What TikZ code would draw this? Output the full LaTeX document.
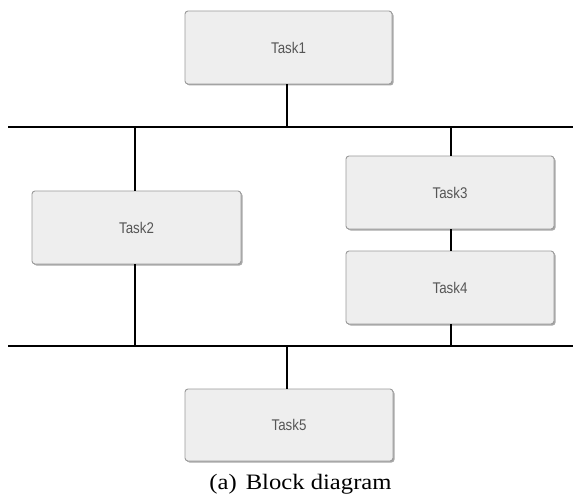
\documentclass[tikz,border=0pt]{standalone}
\usepackage{fontspec}
\setmainfont{Liberation Serif}
\newfontfamily\capfont[FakeStretch=1.12]{Liberation Serif}
\newfontfamily\boxfont[FakeStretch=0.86]{Liberation Sans}
\usetikzlibrary{shadows}
\definecolor{boxfill}{HTML}{EEEEEE}
\definecolor{boxline}{HTML}{9A9A9A}
\definecolor{boxshadow}{HTML}{A8A8A8}
\definecolor{boxtext}{HTML}{555555}
\tikzset{
  x=1pt, y=-1pt,
  taskbox/.style={draw=boxline, line width=0.9pt, fill=boxfill, rounded corners=3pt,
    minimum width=207pt, minimum height=73pt, inner sep=0pt,
    font=\boxfont\fontsize{15.5}{17}\selectfont, text=boxtext,
    drop shadow={shadow xshift=1.5pt, shadow yshift=-1.5pt, fill=boxshadow, opacity=1}},
  wire/.style={draw=black, line width=1.1pt}
}
\begin{document}
\begin{tikzpicture}
\useasboundingbox (0,0) rectangle (574,495);
\node[taskbox] (t1) at (288.5,47.5) {Task1};
\node[taskbox, minimum width=209pt] (t2) at (136.5,227.5) {Task2};
\node[taskbox, minimum width=208pt] (t3) at (450,192.5) {Task3};
\node[taskbox, minimum width=208pt] (t4) at (450,287.5) {Task4};
\node[taskbox, minimum width=208pt, minimum height=72pt] (t5) at (289,425) {Task5};
\coordinate (busTL) at (8,127);
\coordinate (busTR) at (573,127);
\coordinate (busBL) at (8,346);
\coordinate (busBR) at (573,346);
\coordinate (b1) at (287,127);
\coordinate (b2t) at (135,127);
\coordinate (b2b) at (135,346);
\coordinate (b3) at (451,127);
\coordinate (b4) at (451,346);
\coordinate (b5) at (287,346);
\draw[wire] (busTL) -- (busTR);
\draw[wire] (busBL) -- (busBR);
\draw[wire] (t1.south -| b1) -- (b1);
\draw[wire] (b2t) -- (t2.north -| b2t);
\draw[wire] (t2.south -| b2b) -- (b2b);
\draw[wire] (b3) -- (t3.north -| b3);
\draw[wire] (t3.south -| b3) -- (t4.north -| b3);
\draw[wire] (t4.south -| b4) -- (b4);
\draw[wire] (b5) -- (t5.north -| b5);
\node[font=\capfont\fontsize{22}{24}\selectfont, inner sep=0pt, anchor=base] (cap) at (300.5,489) {(a)\hspace{9pt}Block diagram};
\end{tikzpicture}
\end{document}
